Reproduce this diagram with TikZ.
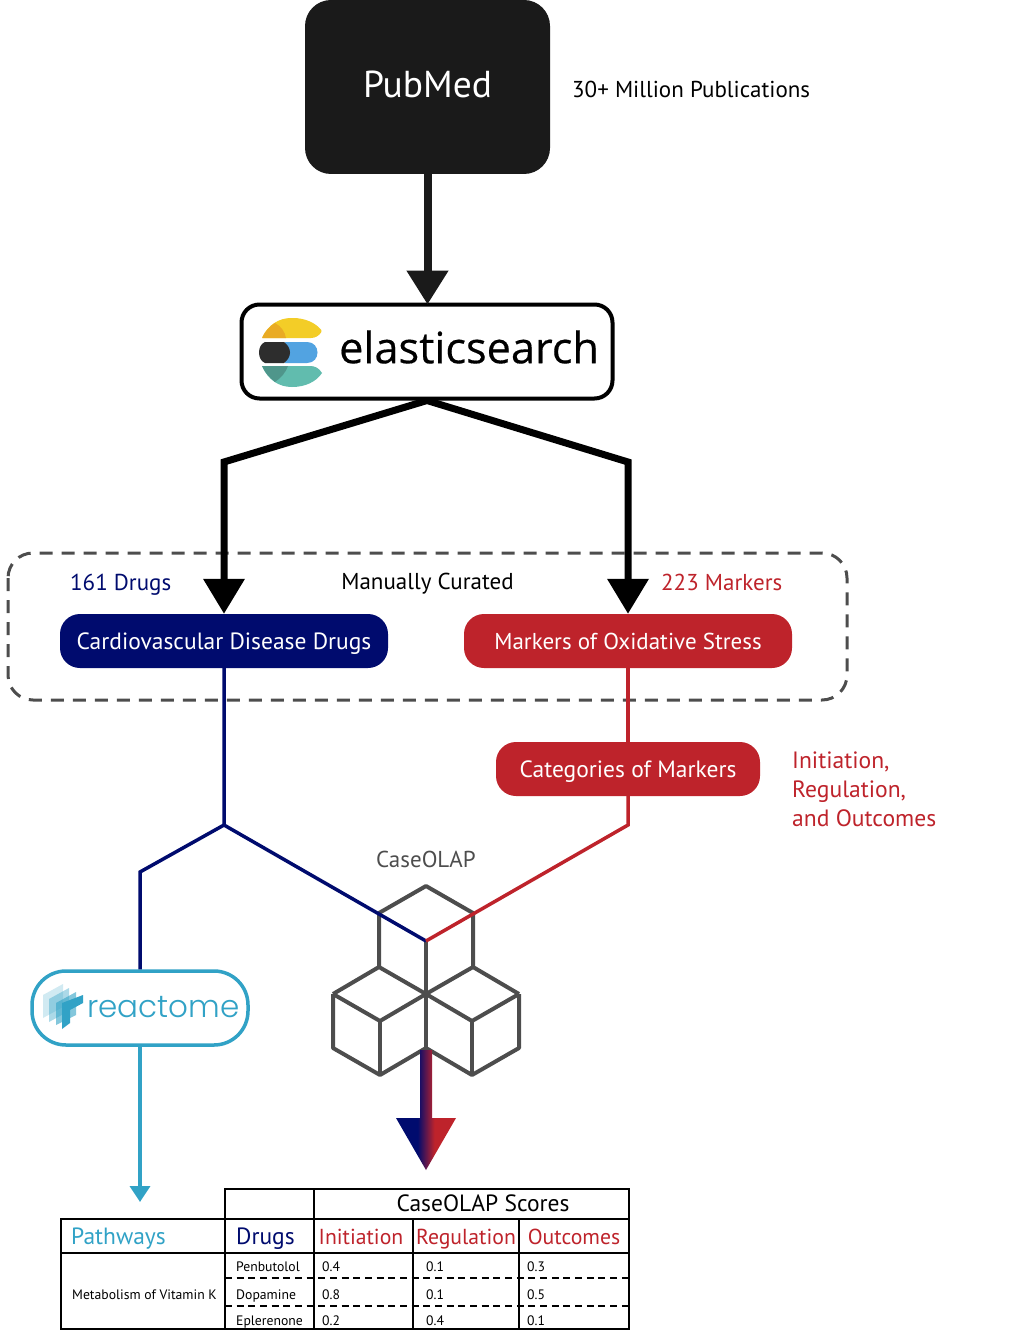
\documentclass[tikz,border=0pt]{standalone}
\usepackage{fontspec}
\setmainfont{PT Sans}
\newfontfamily\elasticfont{Open Sans}[FakeBold=0.35]
\newfontfamily\reactfont{Poppins Light}
\usetikzlibrary{arrows.meta,positioning,calc}
\definecolor{navyc}{RGB}{0,11,110}
\definecolor{redc}{RGB}{190,35,43}
\definecolor{cyanc}{RGB}{49,162,198}
\definecolor{grayc}{RGB}{77,77,77}
\definecolor{darkc}{RGB}{26,26,26}
\pgfdeclarehorizontalshading{navyred}{100bp}{color(0bp)=(navyc); color(43bp)=(navyc); color(57bp)=(redc); color(100bp)=(redc)}
\tikzset{
    pill/.style={rounded corners=20pt, text=white, minimum height=54pt, inner sep=0pt, text height=22.5pt, text depth=4.6pt, font=\fontsize{23.5}{28}\selectfont},
    lbl/.style={inner sep=0pt, text height=22.5pt, text depth=4.6pt, font=\fontsize{23}{28}\selectfont},
    redhead/.style={lbl, text=redc, font=\fontsize{21.7}{26}\selectfont},
    small/.style={inner sep=0pt, text height=13pt, text depth=2.8pt, font=\fontsize{13.7}{17}\selectfont},
    head/.style={inner sep=0pt, text height=21pt, text depth=4.7pt, font=\fontsize{23.5}{29}\selectfont},
    tline/.style={line width=2.5pt, line cap=rect},
    dline/.style={line width=2.2pt, dash pattern=on 7pt off 4.67pt},
    cube/.style={grayc, line width=4pt, line join=round},
}
\begin{document}
\begin{tikzpicture}[x=1pt,y=-1pt]
    \useasboundingbox (0,0) rectangle (1016,1332);

    % Dashed curated region
    \draw[grayc, line width=3pt, dash pattern=on 13pt off 9pt, rounded corners=25pt] (8,553) rectangle (847,700);

    % Source boxes
    \node[fill=darkc, rounded corners=26pt, minimum width=245pt, minimum height=174pt, text=white, inner sep=0pt,
          text height=26pt, text depth=4pt, font=\fontsize{37.5}{45}\selectfont] (pubmed) at (427.5,87) {PubMed};
    \node[draw=black, fill=white, line width=4pt, rounded corners=18pt, minimum width=371pt, minimum height=94pt] (elastic) at (427,351.5) {};
    \node[inner sep=0pt, anchor=west, font=\elasticfont\fontsize{43.3}{52}\selectfont, text=black] (elastictext) at (339,347) {elasticsearch};

    % Elasticsearch logo
    \fill[rounded corners=1pt, fill={rgb,255:red,243;green,205;blue,39}] (262,338) .. controls (268,325) and (279,318) .. (292,318) .. controls (305,318) and (316,323) .. (322,331) .. controls (319,336) and (315,338) .. (310,338) -- cycle;
    \fill[fill={rgb,255:red,233;green,171;blue,36}] (262,338) .. controls (265,331) and (270,326) .. (275,323) .. controls (281,326) and (285,332) .. (286,338) -- cycle;
    \fill[fill={rgb,255:red,82;green,163;blue,225}] (285,342) -- (307,342) .. controls (321,342) and (321,363) .. (307,363) -- (285,363) -- cycle;
    \fill[fill={rgb,255:red,45;green,45;blue,45}] (265,342) -- (284,342) .. controls (292,348) and (292,357) .. (284,363) -- (265,363) .. controls (257,360) and (257,345) .. (265,342) -- cycle;
    \fill[fill={rgb,255:red,97;green,188;blue,174}] (262,366) -- (310,366) .. controls (315,366) and (319,368) .. (322,373) .. controls (316,382) and (305,387) .. (292,387) .. controls (279,387) and (268,380) .. (262,366) -- cycle;
    \fill[fill={rgb,255:red,79;green,150;blue,139}] (262,366) -- (288,366) .. controls (286,372) and (281,378) .. (275,382) .. controls (270,378) and (265,373) .. (262,366) -- cycle;

    % Main arrows
    \coordinate (bendleft) at (224,462);
    \coordinate (bendright) at (628,462);
    \node[pill, fill=navyc, minimum width=328pt] (drugs) at (224,641) {Cardiovascular Disease Drugs};
    \node[pill, fill=redc, minimum width=328pt, font=\fontsize{23}{28}\selectfont] (markers) at (628,641) {Markers of Oxidative Stress};
    \draw[darkc, line width=8pt, shorten >=-2pt, -{Triangle[length=34pt,width=40pt]}] (pubmed.south) -- (pubmed.south |- elastic.north);
    \draw[black, line width=7pt, miter limit=10, -{Triangle[length=35pt,width=40pt]}] (elastic.south) -- (bendleft) -- (drugs.north);
    \draw[black, line width=7pt, miter limit=10, -{Triangle[length=35pt,width=40pt]}] (elastic.south) -- (bendright) -- (markers.north);

    % Labels
    \node[lbl, anchor=west, text=black] (pubcount) at (572,89) {30+ Million Publications};
    \node[lbl, anchor=west, text=navyc] (drugcount) at (70,582) {161 Drugs};
    \node[lbl, text=black] (curated) at (427.5,581) {Manually Curated};
    \node[lbl, anchor=west, text=redc] (markercount) at (661,582) {223 Markers};
    \node[pill, fill=redc, minimum width=264pt] (categories) at (628,769) {Categories of Markers};
    \node[lbl, anchor=west, text=redc, font=\fontsize{23.6}{28}\selectfont] (catinit) at (792,760) {Initiation,};
    \node[lbl, anchor=west, text=redc, font=\fontsize{23.6}{28}\selectfont] (catreg) at (792,789) {Regulation,};
    \node[lbl, anchor=west, text=redc, font=\fontsize{23.6}{28}\selectfont] (catout) at (792,818) {and Outcomes};
    \node[lbl, text=grayc] (caseolap) at (426,859) {CaseOLAP};

    % Cubes
    \draw[cube] (379,967) -- (379,913) -- (426,886) -- (473,913) -- (473,967);
    \draw[cube] (426,941) -- (426,1048);
    \draw[cube] (333,994) -- (379,967) -- (426,994) -- (473,967) -- (519,994);
    \draw[cube] (333,994) -- (333,1048) -- (380,1075) -- (426,1048) -- (472,1075) -- (519,1048) -- (519,994);
    \draw[cube] (333,994) -- (380,1021) -- (426,994) -- (472,1021) -- (519,994);
    \draw[cube] (380,1021) -- (380,1075);
    \draw[cube] (472,1021) -- (472,1075);

    % Reactome box
    \node[draw=cyanc, fill=white, line width=3.5pt, rounded corners=34pt, minimum width=216pt, minimum height=74pt] (reactome) at (140,1008) {};
    \node[inner sep=0pt, anchor=west, text=cyanc, font=\reactfont\fontsize{31}{37}\selectfont] (reacttext) at (87,1007) {reactome};
    \fill[cyanc, opacity=0.22] (43,995) -- (63,984) -- (63,1007) -- (43,1018) -- cycle;
    \fill[cyanc, opacity=0.4] (49,999) -- (69,988) -- (69,1011) -- (49,1022) -- cycle;
    \fill[cyanc, opacity=0.6] (56,1003) -- (76,992) -- (76,1015) -- (56,1025) -- cycle;
    \fill[cyanc] (62,1003) -- (83,995) -- (83,1003) -- (70,1010) -- (70,1023) -- (62,1029) -- cycle;

    % Lines to CaseOLAP and reactome
    \coordinate (forkleft) at (224,825);
    \coordinate (forkout) at (140,872);
    \coordinate (forkright) at (628,825);
    \coordinate (cubemid) at (426,941);
    \coordinate (pathend) at (140,1202);
    \draw[navyc, line width=3.5pt] (drugs.south) -- (forkleft) -- (cubemid);
    \draw[navyc, line width=3.5pt] (forkleft) -- (forkout) -- (reactome.north);
    \draw[redc, line width=3.5pt] (markers.south) -- (categories.north);
    \draw[redc, line width=3.5pt] (categories.south) -- (forkright) -- (cubemid);
    \draw[cyanc, line width=3.5pt, -{Triangle[length=16pt,width=20pt]}] (reactome.south) -- (pathend);

    % Gradient arrow
    \shade[shading=navyred] (420,1050) -- (432,1050) -- (432,1118) -- (456,1118) -- (426,1170) -- (396,1118) -- (420,1118) -- cycle;

    % Table lines
    \foreach \ya/\xa in {1189/225, 1219/61, 1253/61, 1329/61} {
        \draw[tline] (\xa,\ya) -- (629,\ya);
    }
    \foreach \xa/\ya in {61/1219, 225/1189, 314/1189, 413/1219, 519/1219, 629/1189} {
        \draw[tline] (\xa,\ya) -- (\xa,1329);
    }
    \foreach \ya in {1278,1306} {
        \draw[dline] (225,\ya) -- (629,\ya);
    }

    % Table head
    \node[head, text=black] (scores) at (483,1203) {CaseOLAP Scores};
    \node[head, anchor=west, text=cyanc] (hpath) at (71,1236) {Pathways};
    \node[head, anchor=west, text=navyc] (hdrug) at (236,1236) {Drugs};
    \node[redhead] (hinit) at (361,1236) {Initiation};
    \node[redhead] (hreg) at (466,1236) {Regulation};
    \node[redhead] (hout) at (574,1236) {Outcomes};

    % Table body
    \node[small, anchor=west] (vitk) at (72,1294) {Metabolism of Vitamin K};
    \foreach \nm/\ya/\sa/\sb/\sc/\sd in {Penbutolol/1266/0.4/0.1/0.3/a, Dopamine/1294/0.8/0.1/0.5/b, Eplerenone/1320/0.2/0.4/0.1/c} {
        \node[small, anchor=west] (drug\sd) at (236,\ya) {\nm};
        \node[small, anchor=west] (init\sd) at (322,\ya) {\sa};
        \node[small, anchor=west] (reg\sd) at (426,\ya) {\sb};
        \node[small, anchor=west] (out\sd) at (527,\ya) {\sc};
    }
\end{tikzpicture}
\end{document}
